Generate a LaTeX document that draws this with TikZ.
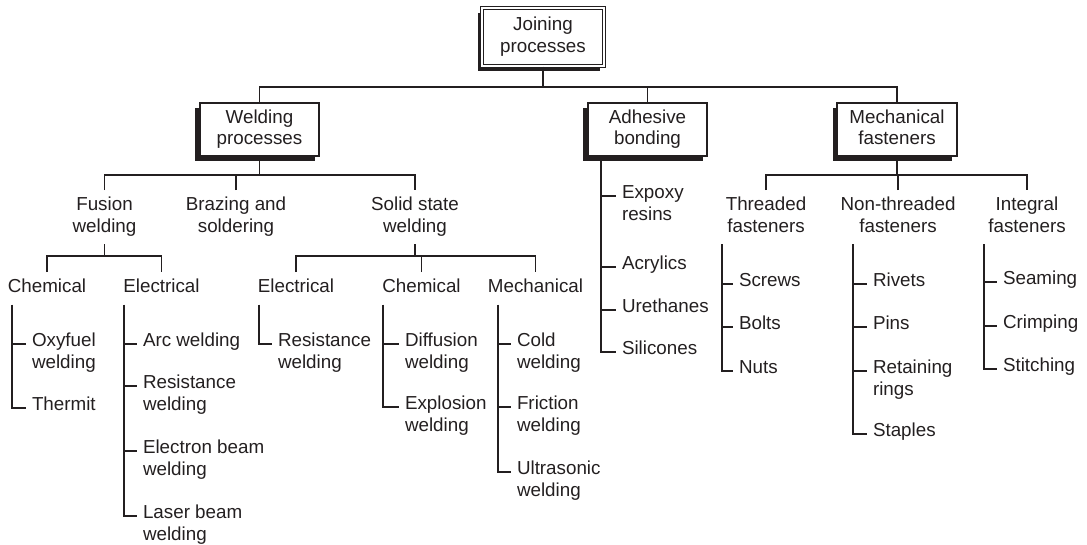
\documentclass[tikz,border=0pt]{standalone}
\usepackage{fontspec}
\setmainfont{Liberation Sans}
\usetikzlibrary{shadows}
\definecolor{ink}{HTML}{231F20}
\newcommand{\mytc}[1]{\begin{tabular}[t]{@{}c@{}}#1\end{tabular}}
\newcommand{\mytl}[1]{\begin{tabular}[t]{@{}l@{}}#1\end{tabular}}
\newcommand{\myboxt}[1]{\raisebox{-2.4pt}{\mytc{#1}}}
\newcommand{\diafont}{\fontsize{18.8}{21.5}\selectfont}
\begin{document}
\begin{tikzpicture}[x=1pt,y=-1pt,
  every node/.style={text=ink, font=\diafont},
  conn/.style={draw=ink, line width=1.15pt},
  pbox/.style={draw=ink, fill=white, line width=1.6pt, minimum width=119.5pt, minimum height=53.5pt, inner sep=0pt,
     drop shadow={shadow xshift=-4.5pt, shadow yshift=-5pt, fill=ink, opacity=1}},
  rootbox/.style={pbox, double=white, double distance=1.8pt, line width=1.2pt, minimum width=122pt, minimum height=58pt},
  head/.style={anchor=base, inner sep=0pt, outer ysep=5.5pt},
  leaf/.style={anchor=base west, inner sep=0pt, outer xsep=6pt},
]
\useasboundingbox (0,0) rectangle (1087,544);

% boxes
\node[rootbox] (join) at (543,37) {\myboxt{Joining\\processes}};
\node[pbox] (weld) at (259.5,129.5) {\myboxt{Welding\\processes}};
\node[pbox] (adh) at (647.5,129.5) {\myboxt{Adhesive\\bonding}};
\node[pbox] (mech) at (897,129.5) {\myboxt{Mechanical\\fasteners}};

\coordinate (bus0) at (0,87);
\coordinate (bus1) at (0,175);
\coordinate (bus2) at (0,256);

% level 2
\node[head] (fus) at (104.5,210.7) {\mytc{Fusion\\welding}};
\node[head] (braz) at (236,210.7) {\mytc{Brazing and\\soldering}};
\node[head] (sol) at (415,210.7) {\mytc{Solid state\\welding}};
\node[head] (thr) at (766,210.7) {\mytc{Threaded\\fasteners}};
\node[head] (nthr) at (898,210.7) {\mytc{Non-threaded\\fasteners}};
\node[head] (intg) at (1027,210.7) {\mytc{Integral\\fasteners}};

% level 3
\node[head] (chA) at (47,292.7) {\mytc{Chemical}};
\node[head] (elA) at (161.5,292.7) {\mytc{Electrical}};
\node[head] (elB) at (296,292.7) {\mytc{Electrical}};
\node[head] (chB) at (421.5,292.7) {\mytc{Chemical}};
\node[head] (mcC) at (535.5,292.7) {\mytc{Mechanical}};

% list x positions
\coordinate (xA) at (12,0);
\coordinate (xB) at (124,0);
\coordinate (xC) at (259,0);
\coordinate (xD) at (383,0);
\coordinate (xE) at (498,0);
\coordinate (xF) at (601,0);
\coordinate (xG) at (722,0);
\coordinate (xH) at (853,0);
\coordinate (xI) at (984,0);

% leaves
\node[leaf] (oxy) at (26,346.7) {\mytl{Oxyfuel\\welding}};
\node[leaf] (therm) at (26,410.7) {\mytl{Thermit}};

\node[leaf] (arc) at (137,346.7) {\mytl{Arc welding}};
\node[leaf] (resA) at (137,388.7) {\mytl{Resistance\\welding}};
\node[leaf] (ebw) at (137,453.7) {\mytl{Electron beam\\welding}};
\node[leaf] (lbw) at (137,518.7) {\mytl{Laser beam\\welding}};

\node[leaf] (resB) at (272,346.7) {\mytl{Resistance\\welding}};

\node[leaf] (diff) at (399,346.7) {\mytl{Diffusion\\welding}};
\node[leaf] (expl) at (399,409.7) {\mytl{Explosion\\welding}};

\node[leaf] (cold) at (511,346.7) {\mytl{Cold\\welding}};
\node[leaf] (fric) at (511,409.7) {\mytl{Friction\\welding}};
\node[leaf] (ultra) at (511,474.7) {\mytl{Ultrasonic\\welding}};

\node[leaf] (epox) at (616,198.7) {\mytl{Expoxy\\resins}};
\node[leaf] (acr) at (616,269.7) {\mytl{Acrylics}};
\node[leaf] (ure) at (616,312.7) {\mytl{Urethanes}};
\node[leaf] (sil) at (616,354.7) {\mytl{Silicones}};

\node[leaf] (scr) at (733,286.7) {\mytl{Screws}};
\node[leaf] (bolt) at (733,329.7) {\mytl{Bolts}};
\node[leaf] (nut) at (733,373.7) {\mytl{Nuts}};

\node[leaf] (riv) at (867,286.7) {\mytl{Rivets}};
\node[leaf] (pin) at (867,329.7) {\mytl{Pins}};
\node[leaf] (ret) at (867,373.7) {\mytl{Retaining\\rings}};
\node[leaf] (stap) at (867,436.7) {\mytl{Staples}};

\node[leaf] (seam) at (997,284.7) {\mytl{Seaming}};
\node[leaf] (crimp) at (997,328.7) {\mytl{Crimping}};
\node[leaf] (stitch) at (997,371.7) {\mytl{Stitching}};

% top level connectors
\draw[conn] (join.south) -- (join.south |- bus0);
\draw[conn] (weld.north) |- (mech.north |- bus0) -- (mech.north);
\draw[conn] (adh.north) -- (adh.north |- bus0);

% level 2 connectors
\draw[conn] (weld.south) -- (weld.south |- bus1);
\draw[conn] (fus.north) |- (sol.north |- bus1) -- (sol.north);
\draw[conn] (braz.north) -- (braz.north |- bus1);
\draw[conn] (mech.south) -- (mech.south |- bus1);
\draw[conn] (thr.north) |- (intg.north |- bus1) -- (intg.north);
\draw[conn] (nthr.north) -- (nthr.north |- bus1);

% level 3 connectors
\draw[conn] (fus.south) -- (fus.south |- bus2);
\draw[conn] (chA.north) |- (elA.north |- bus2) -- (elA.north);
\draw[conn] (sol.south) -- (sol.south |- bus2);
\draw[conn] (elB.north) |- (mcC.north |- bus2) -- (mcC.north);
\draw[conn] (chB.north) -- (chB.north |- bus2);

% lists
\draw[conn] (chA.south -| xA) |- (therm.mid west);
\draw[conn] (oxy.mid west -| xA) -- (oxy.mid west);

\draw[conn] (elA.south -| xB) |- (lbw.mid west);
\draw[conn] (arc.mid west -| xB) -- (arc.mid west);
\draw[conn] (resA.mid west -| xB) -- (resA.mid west);
\draw[conn] (ebw.mid west -| xB) -- (ebw.mid west);

\draw[conn] (elB.south -| xC) |- (resB.mid west);

\draw[conn] (chB.south -| xD) |- (expl.mid west);
\draw[conn] (diff.mid west -| xD) -- (diff.mid west);

\draw[conn] (mcC.south -| xE) |- (ultra.mid west);
\draw[conn] (cold.mid west -| xE) -- (cold.mid west);
\draw[conn] (fric.mid west -| xE) -- (fric.mid west);

\draw[conn] (adh.south -| xF) |- (sil.mid west);
\draw[conn] (epox.mid west -| xF) -- (epox.mid west);
\draw[conn] (acr.mid west -| xF) -- (acr.mid west);
\draw[conn] (ure.mid west -| xF) -- (ure.mid west);

\draw[conn] (thr.south -| xG) |- (nut.mid west);
\draw[conn] (scr.mid west -| xG) -- (scr.mid west);
\draw[conn] (bolt.mid west -| xG) -- (bolt.mid west);

\draw[conn] (nthr.south -| xH) |- (stap.mid west);
\draw[conn] (riv.mid west -| xH) -- (riv.mid west);
\draw[conn] (pin.mid west -| xH) -- (pin.mid west);
\draw[conn] (ret.mid west -| xH) -- (ret.mid west);

\draw[conn] (intg.south -| xI) |- (stitch.mid west);
\draw[conn] (seam.mid west -| xI) -- (seam.mid west);
\draw[conn] (crimp.mid west -| xI) -- (crimp.mid west);
\end{tikzpicture}
\end{document}
